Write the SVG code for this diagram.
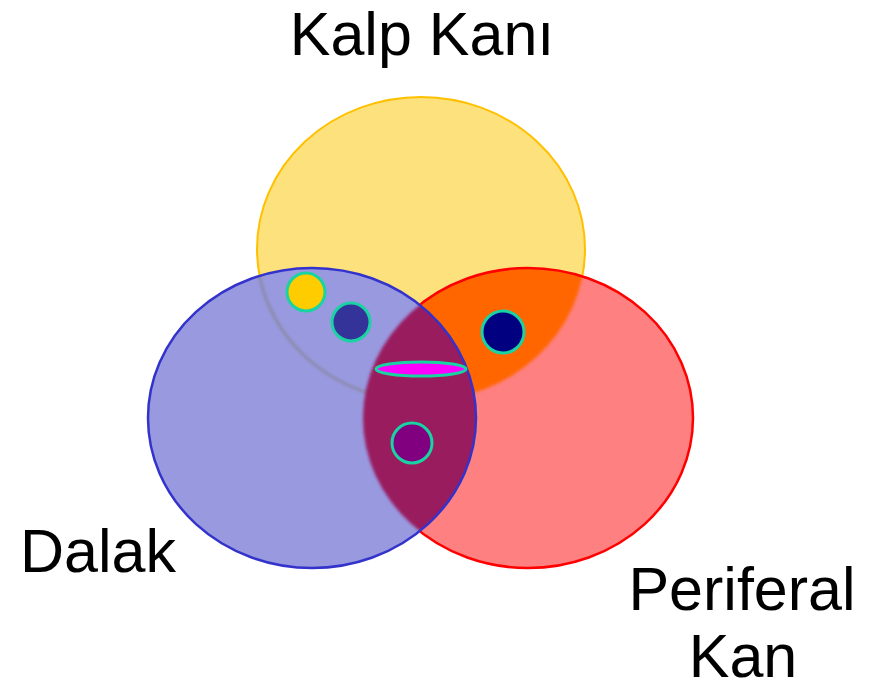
<svg xmlns="http://www.w3.org/2000/svg" width="875" height="691" viewBox="0 0 875 691">
<style>
.lbl{font-family:"Liberation Sans",Arial,sans-serif;font-size:61px;fill:#000;text-anchor:middle}
.dot{stroke:#19D3A2;stroke-width:3}
</style>
<defs>
<clipPath id="cRed"><ellipse cx="528" cy="418" rx="165" ry="150"/></clipPath>
<clipPath id="cBlue"><ellipse cx="312" cy="418" rx="164" ry="150"/></clipPath>
<filter id="soft" x="-10%" y="-10%" width="120%" height="120%"><feGaussianBlur stdDeviation="1.5"/></filter>
</defs>
<rect width="875" height="691" fill="#fff"/>
<g id="kalp-kani">
<ellipse cx="421" cy="249" rx="164" ry="152" fill="#FCE17C" stroke="#FFC000" stroke-width="2"/>
</g>
<g id="periferal-kan">
<ellipse cx="528" cy="418" rx="165" ry="150" fill="#FF8080"/>
<g clip-path="url(#cRed)"><ellipse cx="421" cy="249" rx="164" ry="152" fill="#FF6600" filter="url(#soft)"/></g>
<ellipse cx="528" cy="418" rx="165" ry="150" fill="none" stroke="#FF0000" stroke-width="2.5"/>
</g>
<g id="dalak">
<ellipse cx="312" cy="418" rx="164" ry="150" fill="#9999E0"/>
<g clip-path="url(#cBlue)"><ellipse cx="421" cy="249" rx="164" ry="152" fill="none" stroke="#8A8AAA" stroke-width="3" filter="url(#soft)"/></g>
<g clip-path="url(#cBlue)"><ellipse cx="528" cy="418" rx="165" ry="150" fill="#991A5E" filter="url(#soft)"/></g>
<ellipse cx="312" cy="418" rx="164" ry="150" fill="none" stroke="#3333CC" stroke-width="2.5"/>
</g>
<g id="markers">
<circle class="dot" cx="306" cy="292" r="19" fill="#FFCC00"/>
<circle class="dot" cx="351" cy="322" r="19" fill="#333399"/>
<circle class="dot" cx="503" cy="332" r="21" fill="#000080"/>
<ellipse class="dot" cx="421" cy="369" rx="45" ry="7" fill="#FF00FF"/>
<circle class="dot" cx="412" cy="443" r="20" fill="#800080"/>
</g>
<g id="labels">
<text class="lbl" x="422" y="55">Kalp Kanı</text>
<text class="lbl" x="98" y="572">Dalak</text>
<text class="lbl" x="742" y="610">Periferal</text>
<text class="lbl" x="743" y="677">Kan</text>
</g>
<g id="connectors"/>
</svg>
